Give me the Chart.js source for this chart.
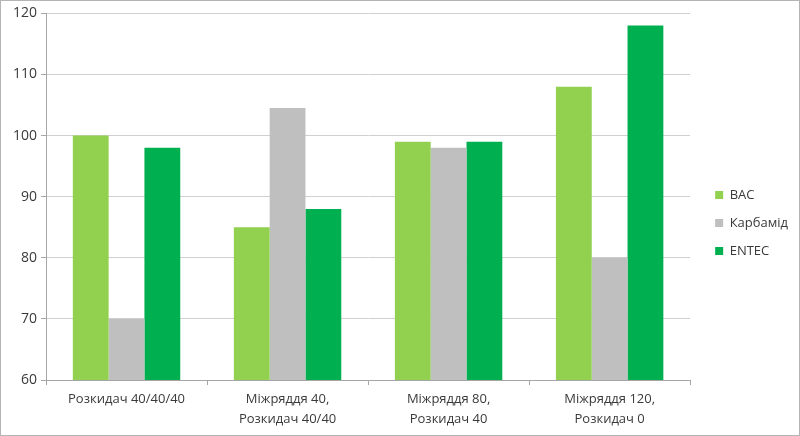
<!DOCTYPE html>
<html>
<head>
<meta charset="utf-8">
<script src="https://cdn.jsdelivr.net/npm/chart.js@4"></script>
<style>
  html, body { margin: 0; padding: 0; background: #fff; }
  #box { width: 800px; height: 436px; box-sizing: border-box; border: 1px solid #b4b4b4; }
  #chart { display: block; }
</style>
</head>
<body>
<div id="box"><canvas id="chart" width="798" height="434"></canvas></div>
<script>
// categories (x axis)
const categories = [
    "Розкидач 40/40/40",
    ["Міжряддя 40,", "Розкидач 40/40"],
    ["Міжряддя 80,", "Розкидач 40"],
    ["Міжряддя 120,", "Розкидач 0"],
];

// series values
const bacValues = [100, 85, 99, 108];
const karbamidValues = [70, 104.5, 98, 80];
const entecValues = [98, 88, 99, 118];

const seriesNames = ["BAC", "Карбамід", "ENTEC"];
const seriesColors = ["#92D050", "#BFBFBF", "#00B050"];

// y axis range
const yMin = 60;
const yMax = 120;
const yStep = 10;

const textColor = "#3a3a3a";
const fontFamily = "'Open Sans', 'DejaVu Sans', sans-serif";

// nudge the legend a bit to the right of the plot, like the original
const legendGap = 25;
const legendShift = {
    id: "legendShift",
    afterLayout(chart) {
        const lg = chart.legend;
        const w = lg.right - lg.left;
        lg.left = chart.chartArea.right + legendGap - lg.options.labels.padding;
        lg.right = lg.left + w;
    },
};

const ctx = document.getElementById("chart");

let myChart = new Chart(ctx, {
    type: "bar",
    plugins: [legendShift],
    data: {
        labels: categories,
        datasets: [
            { label: seriesNames[0], data: bacValues, backgroundColor: seriesColors[0] },
            { label: seriesNames[1], data: karbamidValues, backgroundColor: seriesColors[1] },
            { label: seriesNames[2], data: entecValues, backgroundColor: seriesColors[2] },
        ],
    },
    options: {
        responsive: false,
        animation: false,
        layout: { padding: { left: 8, right: 11, top: 11, bottom: 1 } },
        datasets: {
            bar: { categoryPercentage: 0.667, barPercentage: 1.0 },
        },
        scales: {
            x: {
                grid: {
                    offset: true,
                    drawOnChartArea: false,
                    drawTicks: true,
                    tickLength: 5,
                    color: "#a6a6a6",
                },
                border: { display: true, color: "#a6a6a6" },
                ticks: {
                    color: textColor,
                    font: { family: fontFamily, size: 13, lineHeight: 1.5 },
                    maxRotation: 0,
                    padding: 5,
                },
            },
            y: {
                min: yMin,
                max: yMax,
                ticks: {
                    stepSize: yStep,
                    color: textColor,
                    font: { family: fontFamily, size: 14 },
                    padding: 4,
                },
                grid: {
                    color: "#d0d0d0",
                    tickLength: 5,
                    tickColor: "#a6a6a6",
                },
                border: { display: true, color: "#a6a6a6" },
            },
        },
        plugins: {
            tooltip: { enabled: false },
            legend: {
                position: "right",
                labels: {
                    boxWidth: 8,
                    boxHeight: 8,
                    padding: 15,
                    color: textColor,
                    font: { family: fontFamily, size: 13 },
                },
            },
        },
    },
});
</script>
</body>
</html>
